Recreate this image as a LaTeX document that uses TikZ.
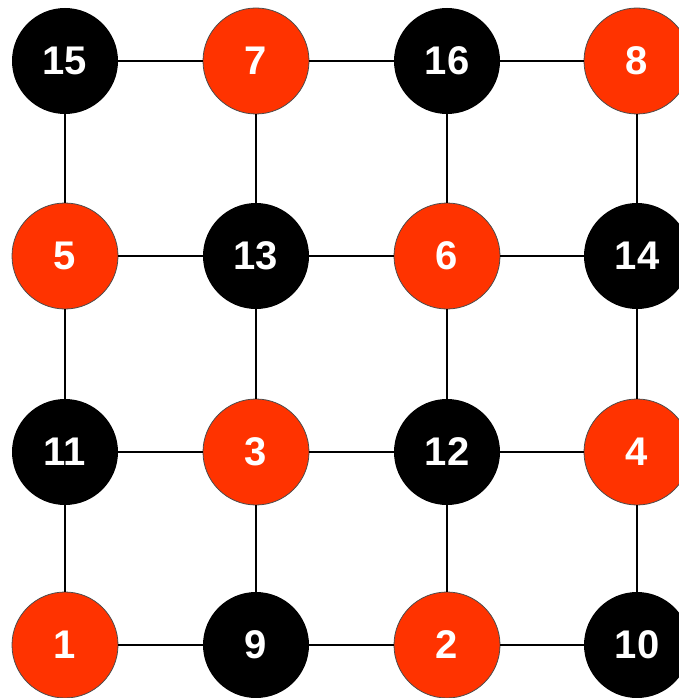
\documentclass[tikz,border=0pt]{standalone}
\usepackage{fontspec}
\setmainfont{Liberation Sans}
\usepackage{tikz}
\definecolor{gridred}{HTML}{FF3300}

\begin{document}
\begin{tikzpicture}[x=1pt, y=-1pt,
  vert/.style={circle, minimum size=106pt, inner sep=0pt, text=white,
    font=\fontsize{40}{40}\selectfont\bfseries},
  blackv/.style={vert, fill=black},
  redv/.style={vert, fill=gridred, draw=black!70, line width=0.8pt},
  link/.style={line width=2.6pt}]
\useasboundingbox (0,0) rectangle (679,698);
% vertices
\node[blackv] (n15) at (65,61)  {15};
\node[redv]   (n7)  at (256,61) {7};
\node[blackv] (n16) at (447,61) {16};
\node[redv]   (n8)  at (637,61) {8};
\node[redv]   (n5)  at (65,256)  {5};
\node[blackv] (n13) at (256,256) {13};
\node[redv]   (n6)  at (447,256) {6};
\node[blackv] (n14) at (637,256) {14};
\node[blackv] (n11) at (65,452)  {11};
\node[redv]   (n3)  at (256,452) {3};
\node[blackv] (n12) at (447,452) {12};
\node[redv]   (n4)  at (637,452) {4};
\node[redv]   (n1)  at (65,645)  {1};
\node[blackv] (n9)  at (256,645) {9};
\node[redv]   (n2)  at (447,645) {2};
\node[blackv] (n10) at (637,645) {10};
% horizontal links
\foreach \a/\b in {15/7, 7/16, 16/8, 5/13, 13/6, 6/14, 11/3, 3/12, 12/4, 1/9, 9/2, 2/10}
  \draw[link] (n\a) -- (n\b);
% vertical links
\foreach \a/\b in {15/5, 5/11, 11/1, 7/13, 13/3, 3/9, 16/6, 6/12, 12/2, 8/14, 14/4, 4/10}
  \draw[link] (n\a) -- (n\b);
\end{tikzpicture}
\end{document}
